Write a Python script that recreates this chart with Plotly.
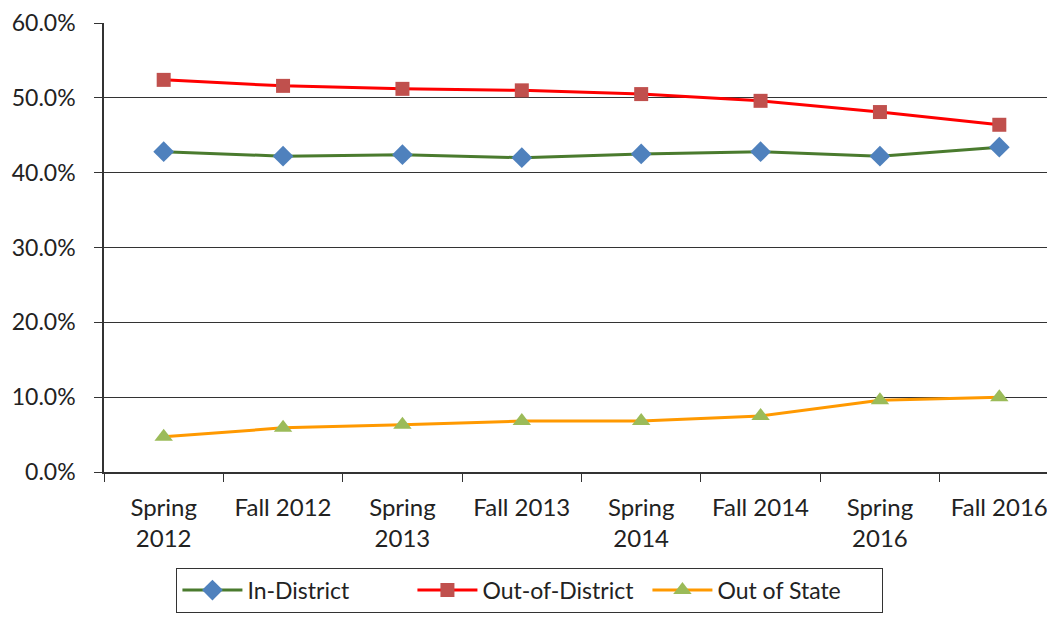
import plotly.graph_objects as go

terms = ["Spring<br>2012", "Fall 2012", "Spring<br>2013", "Fall 2013",
         "Spring<br>2014", "Fall 2014", "Spring<br>2016", "Fall 2016"]
in_district = [0.428, 0.422, 0.424, 0.420, 0.425, 0.428, 0.422, 0.434]
out_of_district = [0.524, 0.516, 0.512, 0.510, 0.505, 0.496, 0.481, 0.464]
out_of_state = [0.047, 0.059, 0.063, 0.068, 0.068, 0.075, 0.096, 0.100]

FONT = "Lato, sans-serif"

fig = go.Figure()
fig.add_trace(go.Scatter(
    x=terms, y=in_district, name="In-District", mode="lines+markers",
    line=dict(color="#4A7B2E", width=3),
    marker=dict(symbol="diamond", size=16, color="#4F81BD"),
))
fig.add_trace(go.Scatter(
    x=terms, y=out_of_district, name="Out-of-District", mode="lines+markers",
    line=dict(color="#FF0000", width=3),
    marker=dict(symbol="square", size=14, color="#C0504D"),
))
fig.add_trace(go.Scatter(
    x=terms, y=out_of_state, name="Out of State", mode="lines+markers",
    line=dict(color="#FF9900", width=3),
    marker=dict(symbol="triangle-up", size=16, color="#9BBB59"),
))

# the page body adds an 8px offset, so margins are shifted to compensate
fig.update_layout(
    width=1055, height=620,
    margin=dict(l=96, r=4, t=15, b=156),
    paper_bgcolor="white", plot_bgcolor="white",
    font=dict(family=FONT, size=23, color="#222"),
    showlegend=True,
    legend=dict(
        orientation="h", x=0.446, xanchor="center", y=-0.213, yanchor="top",
        bordercolor="#333", borderwidth=1, font=dict(size=23),
        itemwidth=60, entrywidth=160,
    ),
    xaxis=dict(
        type="category", range=[-0.5, 7.5], automargin=False,
        showline=True, linecolor="#333", linewidth=1.5,
        ticks="outside", tickson="boundaries", ticklen=8, tickcolor="#333",
        ticklabelstandoff=13,
        showgrid=False, tickfont=dict(size=24),
    ),
    yaxis=dict(
        range=[0, 0.6], dtick=0.1, tickformat=".1%", automargin=False,
        showline=True, linecolor="#333", linewidth=1.5,
        ticks="outside", ticklen=8, tickcolor="#333",
        ticklabelstandoff=14,
        showgrid=True, gridcolor="#333", gridwidth=1,
        zeroline=False, tickfont=dict(size=23),
    ),
)

fig.write_html("out.html")
